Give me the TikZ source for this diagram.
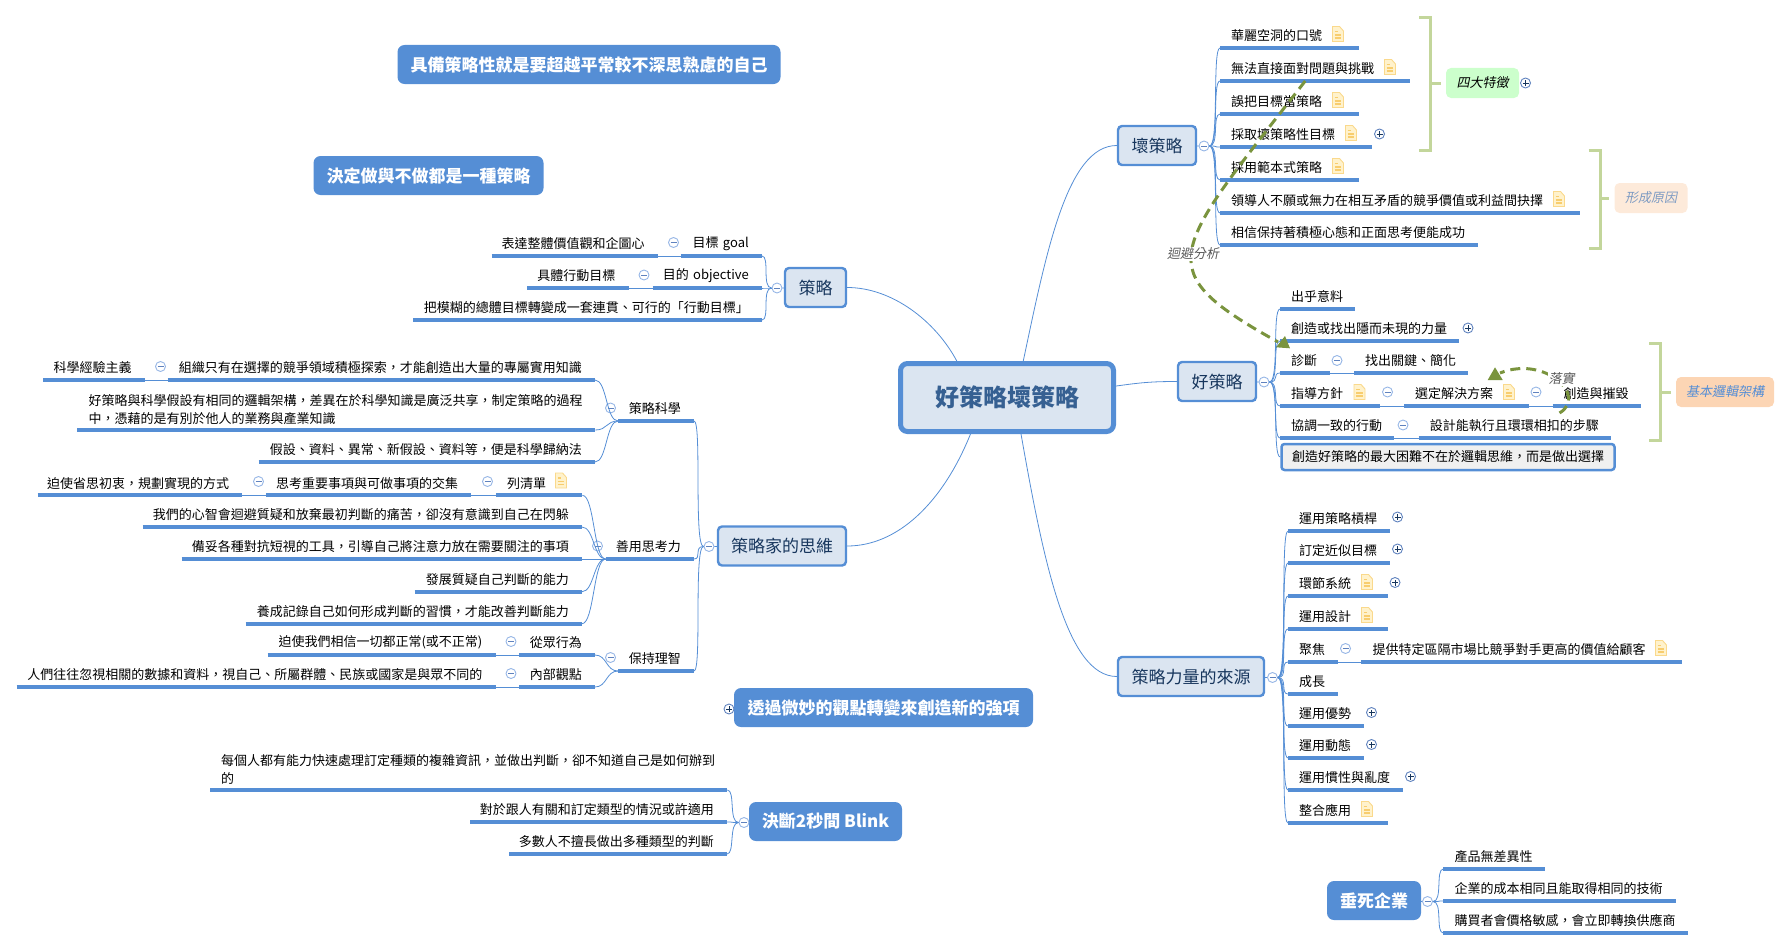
\documentclass[tikz,border=0pt]{standalone}
\usepackage{fontspec}
\setmainfont{Noto Sans CJK TC}
\newfontfamily\slantfont[FakeSlant=0.2]{Noto Sans CJK TC}
\usetikzlibrary{arrows.meta, calc}
\definecolor{mapblue}{RGB}{85, 142, 213}
\definecolor{mapfill}{RGB}{219, 229, 241}
\definecolor{mapink}{RGB}{23, 54, 93}
\definecolor{rootink}{RGB}{54, 96, 146}
\definecolor{foldring}{RGB}{150, 182, 230}
\definecolor{foldplusring}{RGB}{95, 130, 190}
\definecolor{arrowgreen}{RGB}{122, 148, 62}
\definecolor{bracketgreen}{RGB}{195, 214, 155}
\definecolor{notefill}{RGB}{255, 242, 204}
\definecolor{noteline}{RGB}{250, 217, 140}
\definecolor{notebar}{RGB}{248, 205, 110}
\definecolor{fourfill}{RGB}{204, 255, 204}
\definecolor{causefill}{RGB}{253, 234, 218}
\definecolor{causeink}{RGB}{125, 155, 195}
\definecolor{logicfill}{RGB}{252, 213, 180}

\begin{document}
\begin{tikzpicture}[
  x=1pt, y=-1pt,
  body/.style={font=\fontsize{13}{18}\selectfont},
  uline/.style={draw=mapblue, line width=4pt},
  topic/.style={body, anchor=south west, text width=#1pt, align=left, inner xsep=0pt, inner ysep=5.5pt, minimum height=24pt,
    execute at begin node=\hspace*{11pt},
    append after command={\pgfextra{\draw[uline] (\tikzlastnode.south west) -- (\tikzlastnode.south east);}}},
  ltopic/.style={body, anchor=south east, text width=#1pt, align=right, inner xsep=0pt, inner ysep=5.5pt, minimum height=24pt,
    execute at end node=\kern13pt,
    append after command={\pgfextra{\draw[uline] (\tikzlastnode.south west) -- (\tikzlastnode.south east);}}},
  subject/.style={draw=mapblue, line width=2.4pt, fill=mapfill, rounded corners=4pt, text=mapink, font=\fontsize{17}{20}\selectfont, inner sep=0pt},
  banner/.style={fill=mapblue, rounded corners=7pt, text=white, font=\fontsize{17}{20}\selectfont\bfseries, inner sep=0pt},
  tagbox/.style={rounded corners=5pt, inner sep=0pt, font=\fontsize{13}{16}\selectfont\slantfont},
  link/.style={draw=mapblue, line width=0.8pt},
  rbranch/.style={out=0, in=180, out distance=10pt, in distance=8pt},
  lbranch/.style={out=180, in=0, out distance=10pt, in distance=8pt},
  foldminus/.style={circle, draw=foldring, fill=white, line width=0.9pt, minimum size=10pt, inner sep=0pt,
    path picture={\draw[foldplusring, line width=0.8pt] ([xshift=-3pt]path picture bounding box.center) -- ([xshift=3pt]path picture bounding box.center);}},
  foldplus/.style={circle, draw=foldplusring, fill=white, line width=0.9pt, minimum size=10pt, inner sep=0pt,
    path picture={\draw[mapink, line width=0.8pt] ([xshift=-3pt]path picture bounding box.center) -- ([xshift=3pt]path picture bounding box.center);
      \draw[mapink, line width=0.8pt] ([yshift=-3pt]path picture bounding box.center) -- ([yshift=3pt]path picture bounding box.center);}},
  bracket/.style={draw=bracketgreen, line width=3pt},
  relation/.style={draw=arrowgreen, line width=3pt, dash pattern=on 10pt off 6pt},
  rellabel/.style={fill=white, inner sep=1pt, text=black!65, font=\fontsize{13}{16}\selectfont\slantfont},
  note/.pic={
    \filldraw[draw=noteline, fill=notefill, line width=0.9pt] (-5.5,-7.5) -- (1.5,-7.5) -- (5.5,-3) -- (5.5,7.5) -- (-5.5,7.5) -- cycle;
    \draw[notebar, line width=1.4pt] (-3.2,-2.5) -- (0,-2.5) (-3.2,1) -- (3.2,1) (-3.2,4) -- (3.2,4);
  }
]
  \useasboundingbox (0,0) rectangle (1790,950);

  % root and free banners
  \node[draw=mapblue, line width=5pt, fill=mapfill, rounded corners=7pt, minimum width=213pt, minimum height=68pt, inner sep=0pt, text=rootink, font=\fontsize{24}{28}\selectfont\bfseries] (root) at (1007,397.5) {好策略壞策略};
  \node[banner, minimum width=383pt, minimum height=39pt] (beyond) at (589,64.5) {具備策略性就是要超越平常較不深思熟慮的自己};
  \node[banner, minimum width=230pt, minimum height=39pt] (decide) at (428.5,175.5) {決定做與不做都是一種策略};
  \node[banner, minimum width=299pt, minimum height=39pt] (shift) at (883.5,707.5) {透過微妙的觀點轉變來創造新的強項};
  \node[foldplus] (shiftfold) at (729,709) {};
  \node[banner, minimum width=153pt, minimum height=39pt] (blink) at (825.5,821.5) {決斷2秒間 Blink};
  \node[foldminus] (blinkfold) at (744,822.5) {};
  \node[banner, minimum width=94pt, minimum height=39pt] (dying) at (1374,900.5) {垂死企業};
  \node[foldminus] (dyingfold) at (1427.5,901.5) {};

  % first level
  \node[subject, minimum width=78pt, minimum height=39pt] (bad) at (1157,145.5) {壞策略};
  \node[foldminus] (badfold) at (1204,146) {};
  \node[subject, minimum width=78pt, minimum height=39pt] (good) at (1217,381.5) {好策略};
  \node[foldminus] (goodfold) at (1264,382) {};
  \node[subject, minimum width=146pt, minimum height=39pt] (power) at (1191,676.5) {策略力量的來源};
  \node[foldminus] (powerfold) at (1272.5,677.5) {};
  \node[subject, minimum width=61pt, minimum height=39pt] (strategy) at (815.5,287.5) {策略};
  \node[foldminus] (strategyfold) at (777,288) {};
  \node[subject, minimum width=128pt, minimum height=39pt] (thinker) at (782,546) {策略家的思維};
  \node[foldminus] (thinkerfold) at (709,546.5) {};

  \draw[link] (root.66) to[out=78, in=180, out distance=110pt, in distance=50pt] (bad.west);
  \draw[link] (root.6) to[out=8, in=180, out distance=25pt, in distance=25pt] (good.west);
  \draw[link] (root.291) to[out=-80, in=180, out distance=130pt, in distance=50pt] (power.west);
  \draw[link] (root.144) to[out=118, in=0, out distance=45pt, in distance=45pt] (strategy.east);
  \draw[link] (root.225) to[out=248, in=0, out distance=75pt, in distance=50pt] (thinker.east);

  % bad strategy
  \node[topic=139] (slogan) at (1220,48) {華麗空洞的口號};
  \node[topic=190] (dodge) at (1220,81) {無法直接面對問題與挑戰};
  \node[topic=139] (mistake) at (1220,114) {誤把目標當策略};
  \node[topic=152] (badgoal) at (1220,147) {採取壞策略性目標};
  \node[topic=139] (template) at (1220,180) {採用範本式策略};
  \node[topic=360] (leader) at (1220,213) {領導人不願或無力在相互矛盾的競爭價值或利益間抉擇};
  \node[topic=258] (positive) at (1220,245) {相信保持著積極心態和正面思考便能成功};
  \pic at (1338,34) {note};
  \pic at (1390,67) {note};
  \pic at (1338,100) {note};
  \pic at (1351,133) {note};
  \pic at (1338,166) {note};
  \pic at (1559,199) {note};
  \node[foldplus] (badgoalfold) at (1379.5,134) {};
  \draw[link] (bad) -- (badfold);
  \foreach \kid in {slogan, dodge, mistake, badgoal, template, leader, positive}
    \draw[link] (badfold) to[rbranch] (\kid.south west);

  % good strategy
  \node[topic=75] (surprise) at (1280,309) {出乎意料};
  \node[topic=179] (hidden) at (1280,341) {創造或找出隱而未現的力量};
  \node[foldplus] (hiddenfold) at (1468,328) {};
  \node[topic=50] (diagnose) at (1280,373) {診斷};
  \node[foldminus] (diagnosefold) at (1337,360.5) {};
  \node[topic=113.5] (keypoint) at (1354,373) {找出關鍵、簡化};
  \node[topic=99.5] (policy) at (1280,406) {指導方針};
  \node[foldminus] (policyfold) at (1387.5,392) {};
  \node[topic=125] (solution) at (1404,406) {選定解決方案};
  \node[foldminus] (solutionfold) at (1536,392) {};
  \node[topic=88] (destroy) at (1552.5,406) {創造與摧毀};
  \node[topic=114] (action) at (1280,438) {協調一致的行動};
  \node[foldminus] (actionfold) at (1403,425) {};
  \node[topic=192] (steps) at (1418.6,438) {設計能執行且環環相扣的步驟};
  \node[draw=mapblue, line width=2.5pt, fill=black!6, rounded corners=3pt, minimum width=333pt, minimum height=26pt, inner sep=0pt, body] (choice) at (1448,457) {創造好策略的最大困難不在於邏輯思維，而是做出選擇};
  \pic at (1359.5,392) {note};
  \pic at (1509,392) {note};
  \draw[link] (good) -- (goodfold);
  \foreach \kid in {surprise, hidden, diagnose, policy, action}
    \draw[link] (goodfold) to[rbranch] (\kid.south west);
  \draw[link] (goodfold) to[rbranch] (choice.west);
  \draw[link] (diagnose.south east) -- (keypoint.south west);
  \draw[link] (policy.south east) -- (solution.south west);
  \draw[link] (solution.south east) -- (destroy.south west);
  \draw[link] (action.south east) -- (steps.south west);

  % brackets and their tags
  \node[tagbox, fill=fourfill, minimum width=73pt, minimum height=30pt, text=black] (fourtag) at (1482.5,83) {四大特徵};
  \node[foldplus] (fourfold) at (1525.5,83) {};
  \node[tagbox, fill=causefill, minimum width=73pt, minimum height=30pt, text=causeink] (causetag) at (1651,198) {形成原因};
  \node[tagbox, fill=logicfill, minimum width=98pt, minimum height=30pt, text=mapblue] (logictag) at (1725,392) {基本邏輯架構};
  \coordinate (fourjoin) at (1430,83);
  \coordinate (causejoin) at (1600,198);
  \coordinate (logicjoin) at (1660,392);
  \draw[bracket] (1419,18) -- (1430,18) -- (1430,150) -- (1419,150);
  \draw[bracket] (1588.5,150) -- (1600,150) -- (1600,248) -- (1588.5,248);
  \draw[bracket] (1649,343) -- (1660,343) -- (1660,440) -- (1649,440);
  \draw[bracket, shorten >=5pt] (fourjoin) -- (fourtag);
  \draw[bracket, shorten >=5pt] (causejoin) -- (causetag);
  \draw[bracket, shorten >=5pt] (logicjoin) -- (logictag);

  % sources of power
  \node[topic=101.6] (leverage) at (1288,531) {運用策略槓桿};
  \node[topic=101.6] (proximate) at (1288,563) {訂定近似目標};
  \node[topic=99.4] (chain) at (1288,596) {環節系統};
  \node[topic=99.4] (design) at (1288,629) {運用設計};
  \node[topic=49.7] (focus) at (1288,662) {聚焦};
  \node[foldminus] (focusfold) at (1345.5,648.5) {};
  \node[topic=320.6] (niche) at (1361.4,662) {提供特定區隔市場比競爭對手更高的價值給顧客};
  \node[topic=49.7] (growth) at (1288,694) {成長};
  \node[topic=76] (advantage) at (1288,726) {運用優勢};
  \node[topic=76] (dynamics) at (1288,758) {運用動態};
  \node[topic=114.8] (inertia) at (1288,790) {運用慣性與亂度};
  \node[topic=99.4] (integrate) at (1288,823) {整合應用};
  \node[foldplus] (leveragefold) at (1397.5,517) {};
  \node[foldplus] (proximatefold) at (1397.5,549) {};
  \node[foldplus] (chainfold) at (1395,582.5) {};
  \node[foldplus] (advantagefold) at (1371.5,712.5) {};
  \node[foldplus] (dynamicsfold) at (1371.5,744.5) {};
  \node[foldplus] (inertiafold) at (1410.5,776.5) {};
  \pic at (1367,582) {note};
  \pic at (1367,615) {note};
  \pic at (1661,648) {note};
  \pic at (1367,809) {note};
  \draw[link] (power) -- (powerfold);
  \foreach \kid in {leverage, proximate, chain, design, focus, growth, advantage, dynamics, inertia, integrate}
    \draw[link] (powerfold) to[rbranch] (\kid.south west);
  \draw[link] (focus.south east) -- (niche.south west);

  % dying firms
  \node[topic=101] (nodiff) at (1443.3,869) {產品無差異性};
  \node[topic=232] (samecost) at (1443.3,901) {企業的成本相同且能取得相同的技術};
  \node[topic=244] (switch) at (1443.3,933) {購買者會價格敏感，會立即轉換供應商};
  \draw[link] (dying) -- (dyingfold);
  \foreach \kid in {nodiff, samecost, switch}
    \draw[link] (dyingfold) to[rbranch] (\kid.south west);

  % strategy
  \node[ltopic=81] (goal) at (762,256) {目標 goal};
  \node[foldminus] (goalfold) at (673.5,242.5) {};
  \node[ltopic=165.7] (vision) at (657.7,256) {表達整體價值觀和企圖心};
  \node[ltopic=109] (objective) at (762,288) {目的 objective};
  \node[foldminus] (objectivefold) at (644,275) {};
  \node[ltopic=101] (concrete) at (628.5,288) {具體行動目標};
  \node[ltopic=348.4] (transform) at (762,320) {把模糊的總體目標轉變成一套連貫、可行的「行動目標」};
  \draw[link] (strategy) -- (strategyfold);
  \foreach \kid in {goal, objective, transform}
    \draw[link] (strategyfold) to[lbranch] (\kid.south east);
  \draw[link] (goal.south west) -- (vision.south east);
  \draw[link] (objective.south west) -- (concrete.south east);

  % strategist thinking
  \node[ltopic=75.6] (science) at (694,421) {策略科學};
  \node[foldminus] (sciencefold) at (610.5,408) {};
  \node[ltopic=427] (explore) at (595,380) {組織只有在選擇的競爭領域積極探索，才能創造出大量的專屬實用知識};
  \node[foldminus] (explorefold) at (160.5,366.5) {};
  \node[ltopic=101] (empirical) at (144.8,380) {科學經驗主義};
  \node[topic=517.6] (hypothesis) at (77.4,430) {好策略與科學假設有相同的邏輯架構，差異在於科學知識是廣泛共享，制定策略的過程\\\hspace*{11pt}中，憑藉的是有別於他人的業務與產業知識};
  \node[ltopic=336] (induction) at (595,462) {假設、資料、異常、新假設、資料等，便是科學歸納法};
  \foreach \kid in {explore, hypothesis, induction}
    \draw[link] (science.south west) to[lbranch, out distance=12pt, in distance=12pt] (\kid.south east);
  \draw[link] (explore.south west) -- (empirical.south east);

  \node[ltopic=88] (reason) at (694,559) {善用思考力};
  \node[foldminus] (reasonfold) at (597.5,546) {};
  \node[topic=86] (checklist) at (496,495.3) {列清單};
  \node[foldminus] (checklistfold) at (487.5,481.5) {};
  \node[ltopic=204.8] (priority) at (471.4,495.3) {思考重要事項與可做事項的交集};
  \node[foldminus] (priorityfold) at (258.5,481.5) {};
  \node[ltopic=204.4] (intent) at (242.4,495.3) {迫使省思初衷，規劃實現的方式};
  \node[ltopic=439] (pain) at (582,527) {我們的心智會迴避質疑和放棄最初判斷的痛苦，卻沒有意識到自己在閃躲};
  \node[ltopic=400] (tools) at (582,559) {備妥各種對抗短視的工具，引導自己將注意力放在需要關注的事項};
  \node[ltopic=167] (doubt) at (582,591.7) {發展質疑自己判斷的能力};
  \node[ltopic=336] (record) at (582,623.7) {養成記錄自己如何形成判斷的習慣，才能改善判斷能力};
  \pic at (561,480.5) {note};
  \foreach \kid in {checklist, pain, tools, doubt, record}
    \draw[link] (reason.south west) to[lbranch, out distance=12pt, in distance=12pt] (\kid.south east);
  \draw[link] (checklist.south west) -- (priority.south east);
  \draw[link] (priority.south west) -- (intent.south east);

  \node[ltopic=75.6] (sanity) at (694,671) {保持理智};
  \node[foldminus] (sanityfold) at (610.5,657.5) {};
  \node[ltopic=75.4] (herd) at (595,655) {從眾行為};
  \node[foldminus] (herdfold) at (511,641.5) {};
  \node[ltopic=227.5] (normal) at (495.5,655) {迫使我們相信一切都正常(或不正常)};
  \node[ltopic=75.4] (inside) at (595,687) {內部觀點};
  \node[foldminus] (insidefold) at (511,673.5) {};
  \node[ltopic=478.5] (unique) at (495.5,687) {人們往往忽視相關的數據和資料，視自己、所屬群體、民族或國家是與眾不同的};
  \foreach \kid in {herd, inside}
    \draw[link] (sanity.south west) to[lbranch, out distance=12pt, in distance=12pt] (\kid.south east);
  \draw[link] (herd.south west) -- (normal.south east);
  \draw[link] (inside.south west) -- (unique.south east);

  \draw[link] (thinker) -- (thinkerfold);
  \foreach \kid in {science, reason, sanity}
    \draw[link] (thinkerfold) to[lbranch] (\kid.south east);

  % blink
  \node[topic=517] (everyone) at (210,790) {每個人都有能力快速處理訂定種類的複雜資訊，並做出判斷，卻不知道自己是如何辦到\\\hspace*{11pt}的};
  \node[ltopic=256.3] (people) at (727,822) {對於跟人有關和訂定類型的情況或許適用};
  \node[ltopic=217.6] (many) at (727,854) {多數人不擅長做出多種類型的判斷};
  \draw[link] (blink) -- (blinkfold);
  \foreach \kid in {everyone, people, many}
    \draw[link] (blinkfold) to[lbranch] (\kid.south east);

  % relations between topics
  \coordinate (avoidfrom) at ([xshift=-10pt]dodge.south);
  \coordinate (avoidto) at (1278,342);
  \coordinate (carryfrom) at ([xshift=7pt,yshift=-7pt]destroy.south west);
  \coordinate (carryto) at (1500,373);
  \draw[relation] (avoidfrom) .. controls (1170,255) and (1147,269) .. (avoidto);
  \fill[arrowgreen] (1285,336) -- (1276,347.3) -- (1290,348.3) -- cycle;
  \draw[relation] (carryfrom) .. controls (1588,396) and (1545,355) .. (carryto);
  \fill[arrowgreen] (1495,367.3) -- (1487.7,380) -- (1502.7,380) -- cycle;
  \node[rellabel] (avoidlabel) at (1193,254) {迴避分析};
  \node[rellabel] (carrylabel) at (1561.7,379) {落實};
\end{tikzpicture}
\end{document}
